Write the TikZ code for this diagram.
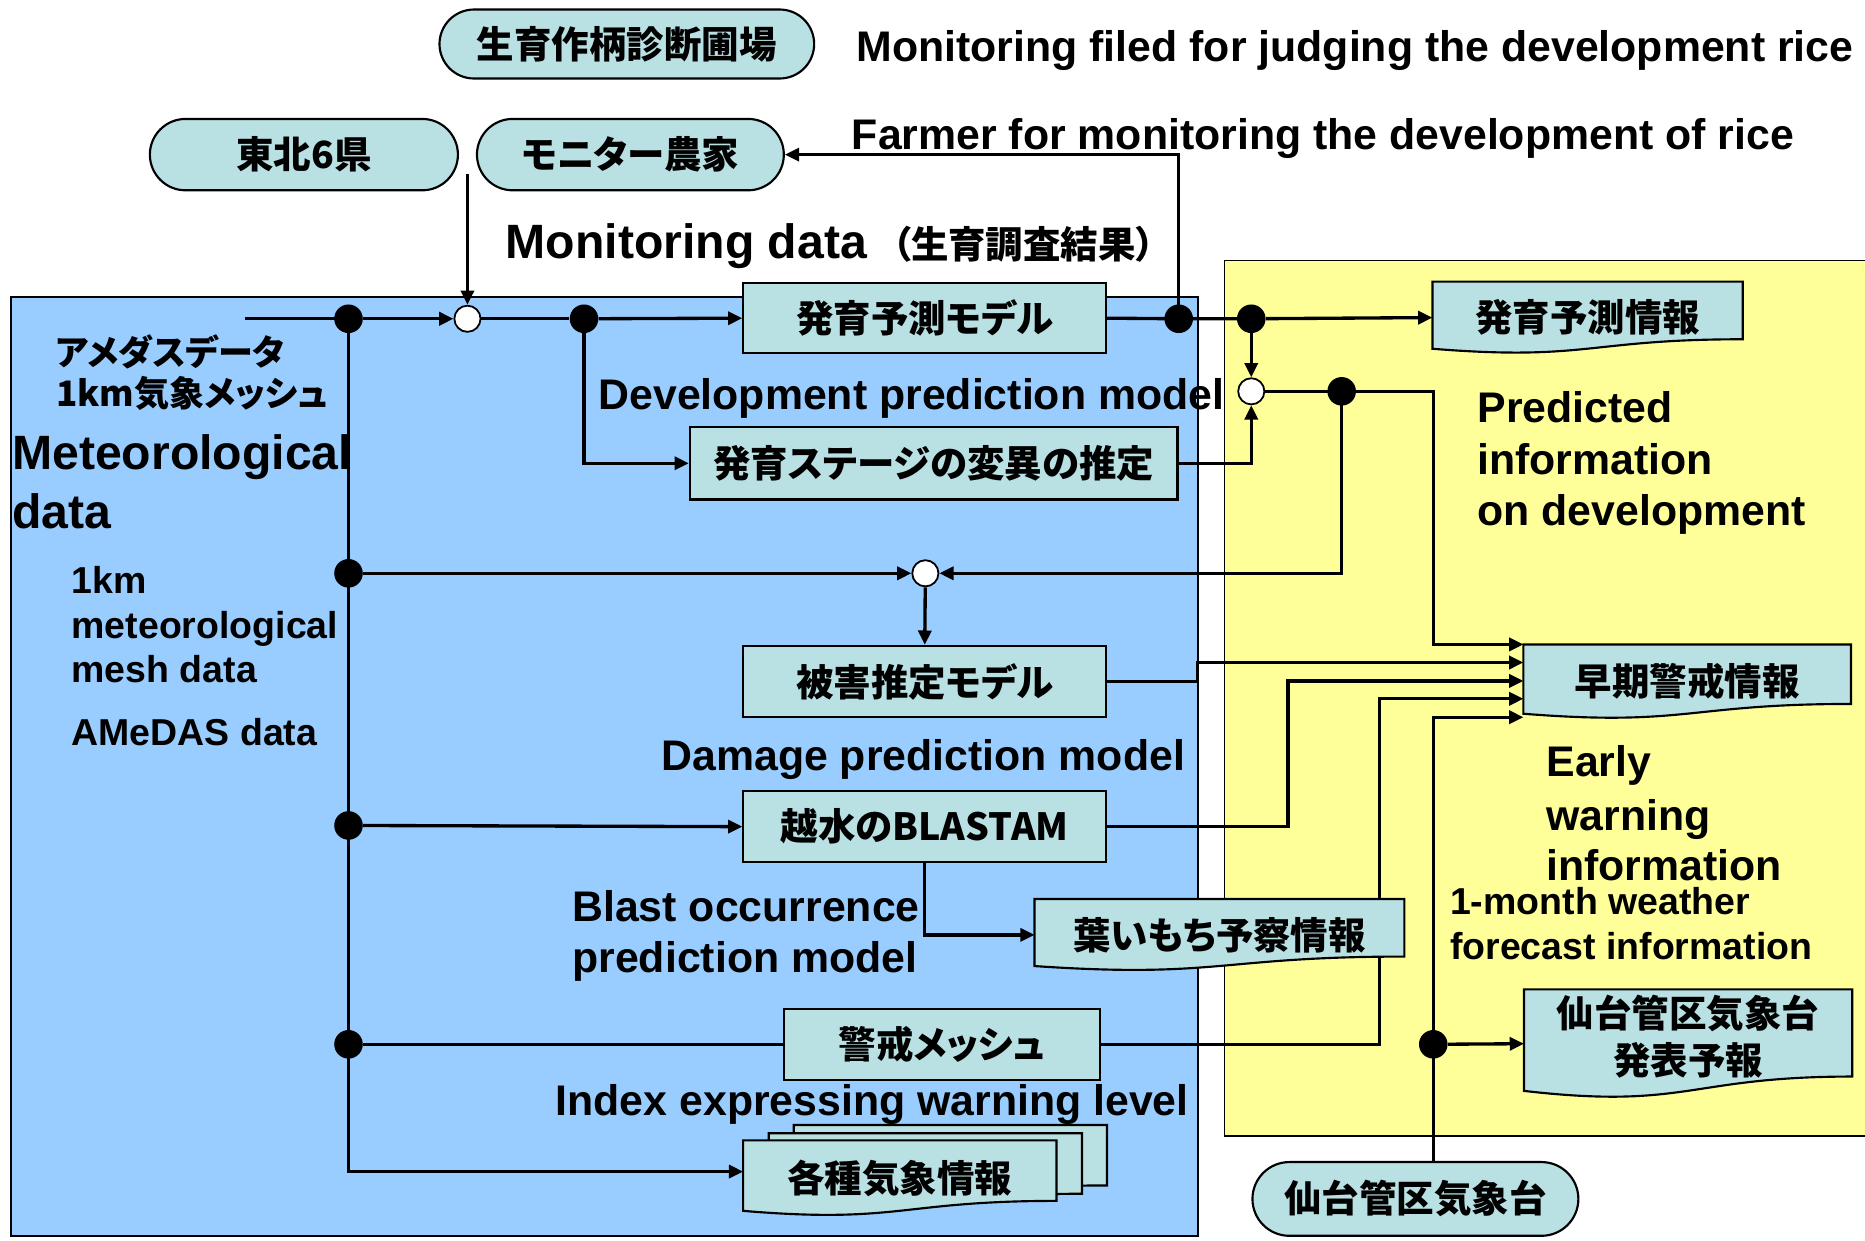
\documentclass[tikz,border=0pt]{standalone}
\usepackage{fontspec}
\setmainfont{Liberation Sans}
\newfontfamily\jp[RawFeature=+palt]{Noto Sans CJK JP}
\usetikzlibrary{arrows.meta,shapes.misc,calc}

\definecolor{blueP}{HTML}{99CCFF}
\definecolor{yellowP}{HTML}{FFFF99}
\definecolor{tealB}{HTML}{B9E0E3}

\newcommand\fJP{\jp\bfseries\fontsize{31.5}{39}\selectfont}
\newcommand\fJPs{\jp\bfseries\fontsize{29.5}{34}\selectfont}
\newcommand\fEN{\bfseries\fontsize{36}{40}\selectfont}
\newcommand\fENs{\bfseries\fontsize{31.5}{36}\selectfont}
\newcommand\fENb{\bfseries\fontsize{40.5}{44}\selectfont}

% document symbol with a wavy lower edge, drawn around a node
\newcommand\docshape[1]{%
  \path[docline] (#1.north west) -- (#1.north east)
    -- ($(#1.north east)!0.802!(#1.south east)$)
    .. controls ($(#1.north)!0.802!(#1.south)$) and ($(#1.north)!1.1075!(#1.south)$)
    .. ($(#1.north west)!0.934!(#1.south west)$) -- cycle;}

\pgfdeclarelayer{panels}
\pgfdeclarelayer{lines}
\pgfdeclarelayer{docs}
\pgfsetlayers{panels,lines,docs,main}

\tikzset{
  ln/.style={line width=2.8pt, draw=black},
  arr/.style={ln, -{Triangle[length=12pt,width=11pt]}},
  dot/.style={circle, fill=black, minimum size=24pt, inner sep=0pt},
  odot/.style={circle, fill=white, draw=black, line width=1.5pt, minimum size=22pt, inner sep=0pt},
  box/.style={rectangle, draw=black, line width=1.8pt, fill=tealB, inner sep=0pt, font=\fJP},
  pill/.style={rounded rectangle, draw=black, line width=1.8pt, fill=tealB, inner sep=0pt, font=\fJP},
  doc/.style={rectangle, inner sep=0pt, font=\fJP, align=center},
  docline/.style={draw=black, line width=1.8pt, fill=tealB},
  lbl/.style={anchor=base west, inner sep=0pt, font=\fEN},
  lbls/.style={anchor=base west, inner sep=0pt, font=\fENs},
  lblb/.style={anchor=base west, inner sep=0pt, font=\fENb},
  jlbl/.style={anchor=west, inner sep=0pt, font=\fJPs},
}

\begin{document}
\begin{tikzpicture}[x=1pt,y=-1pt]
\useasboundingbox (0,0) rectangle (1568,1043);

% background panels
\begin{pgfonlayer}{panels}
  \draw[line width=1.5pt, fill=blueP] (9,250) rectangle (1007,1039);
  \draw[line width=1.5pt, fill=yellowP] (1029.5,219) rectangle (1590,955);
\end{pgfonlayer}

% sources
\node[pill, minimum width=315pt, minimum height=58pt] (p1) at (527,37) {生育作柄診断圃場};
\node[pill, minimum width=259pt, minimum height=60pt] (p2) at (255.5,130) {東北6県};
\node[pill, minimum width=258pt, minimum height=60pt] (p3) at (530,130) {モニター農家};
\node[pill, minimum width=274pt, minimum height=62pt] (p4) at (1190,1008) {仙台管区気象台};

% models
\node[box, minimum width=305pt, minimum height=59pt] (b1) at (777.5,267.5) {発育予測モデル};
\node[box, minimum width=410pt, minimum height=61pt] (b2) at (785,389.5) {発育ステージの変異の推定};
\node[box, minimum width=305pt, minimum height=60pt] (b3) at (777.5,573) {被害推定モデル};
\node[box, minimum width=305pt, minimum height=60pt] (b4) at (777.5,695) {越水のBLASTAM};
\node[box, minimum width=266pt, minimum height=60pt] (b5) at (792,878) {警戒メッシュ};

% information products
\node[doc, minimum width=260.5pt, minimum height=60pt] (d1) at (1334.75,267) {発育予測情報};
\node[doc, minimum width=275pt, minimum height=62pt] (d2) at (1418.5,573) {早期警戒情報};
\node[doc, minimum width=310.5pt, minimum height=60pt] (d3) at (1025.25,786) {葉いもち予察情報};
\node[doc, minimum width=275.5pt, minimum height=91pt] (d4) at (1419.25,877.5) {};
\node[doc] (d4t) at (1419.25,871.5) {仙台管区気象台\\発表予報};
\node[doc, minimum width=263pt, minimum height=63pt] (s3) at (799,977.5) {};
\node[doc, minimum width=263pt, minimum height=63pt] (s2) at (778,984.5) {};
\node[doc, minimum width=263pt, minimum height=63pt] (d5) at (756.5,990.5) {各種気象情報};
\begin{pgfonlayer}{docs}
  \docshape{d1}\docshape{d2}\docshape{d3}\docshape{d4}
  \docshape{s3}\docshape{s2}\docshape{d5}
\end{pgfonlayer}

% junctions
\node[dot] (dA) at (293,268) {};
\node[odot] (oA) at (393,268) {};
\node[dot] (dB) at (491,268) {};
\node[dot] (dC) at (991,268) {};
\node[dot] (dD) at (1052,268) {};
\node[odot] (oB) at (1052,329) {};
\node[dot] (dE) at (1128,329) {};
\node[dot] (dF) at (293,482) {};
\node[odot] (oC) at (778,482) {};
\node[dot] (dG) at (293,694) {};
\node[dot] (dH) at (293,878) {};
\node[dot] (dI) at (1205,878) {};

\coordinate (in) at (206,268);
\coordinate (monin) at (393,146);
\coordinate (e1) at (d2.north west);
\coordinate (e2) at ([yshift=16pt]d2.west);
\coordinate (e3) at ([yshift=0.5pt]d2.west);
\coordinate (e4) at ([yshift=-14.5pt]d2.west);
\coordinate (e5) at ([yshift=-30pt]d2.west);

% connectors
\begin{pgfonlayer}{lines}
  \draw[ln] (in) -- (dA.center);
  \draw[arr] (dA) -- (oA);
  \draw[arr] (monin) -- (oA);
  \draw[ln] (oA) -- (dB);
  \draw[arr] (dB) -- (b1.west);
  \draw[arr] (dB.center) |- (b2.west);
  \draw[ln] (b1.east) -- (dC.center) -- (dD.center);
  \draw[arr] (dD) -- (d1.west);
  \draw[arr] (dC.center) |- (p3.east);
  \draw[arr] (dD) -- (oB);
  \draw[arr] (b2.east) -| (oB.south);
  \draw[ln] (oB) -- (dE.center);
  \draw[arr] (dE.center) -- ++(77,0) |- (e1);
  \draw[arr] (dE.center) |- (oC.east);
  \draw[ln] (dA.center) -- (dF.center) -- (dG.center) -- (dH.center);
  \draw[arr] (dH.center) |- ([yshift=5.5pt]d5.west);
  \draw[arr] (dF) -- (oC);
  \draw[arr] (oC) -- (b3.north);
  \draw[arr] (dG) -- (b4.west);
  \draw[arr] (b4.south) |- (d3.west);
  \draw[ln] (dH) -- (b5.west);
  \draw[arr] (b3.east) -- ++(76,0) |- (e2);
  \draw[arr] (b4.east) -- ++(152,0) |- (e3);
  \draw[arr] (b5.east) -- ++(234,0) |- (e4);
  \draw[ln] (p4.north -| dI) -- (dI.center);
  \draw[arr] (dI.center) |- (e5);
  \draw[arr] (dI) -- (d4.west);
\end{pgfonlayer}

% labels
\node[lbl] (t1) at (720,52) {Monitoring filed for judging the development rice};
\node[lbl] (t2) at (716,126) {Farmer for monitoring the development of rice};
\node[lblb] (t3) at (425,217) {Monitoring data};
\node[anchor=west, inner sep=0pt, font=\fJP] (t4) at (750,205) {（生育調査結果）};
\node[jlbl] (t5) at (47,296) {アメダスデータ};
\node[jlbl] (t6) at (47,331) {1km気象メッシュ};
\node[lblb] (t7) at (10,395) {Meteorological};
\node[lblb] (t8) at (10,444) {data};
\node[lbls] (t9) at (60,499) {1km};
\node[lbls] (t10) at (60,537) {meteorological};
\node[lbls] (t11) at (60,574) {mesh data};
\node[lbls] (t12) at (60,627) {AMeDAS data};
\node[lbl] (t13) at (503,344) {Development prediction model};
\node[lbl] (t14) at (1242,355) {Predicted};
\node[lbl] (t15) at (1242,399) {information};
\node[lbl] (t16) at (1242,442) {on development};
\node[lbl] (t17) at (556,648) {Damage prediction model};
\node[lbl] (t18) at (481,775) {Blast occurrence};
\node[lbl] (t19) at (481,818) {prediction model};
\node[lbl] (t20) at (1300,653) {Early};
\node[lbl] (t21) at (1300,698) {warning};
\node[lbl] (t22) at (1300,740) {information};
\node[lbls] (t23) at (1219,769) {1-month weather};
\node[lbls] (t24) at (1219,807) {forecast information};
\node[lbl] (t25) at (467,938) {Index expressing warning level};
\end{tikzpicture}
\end{document}
